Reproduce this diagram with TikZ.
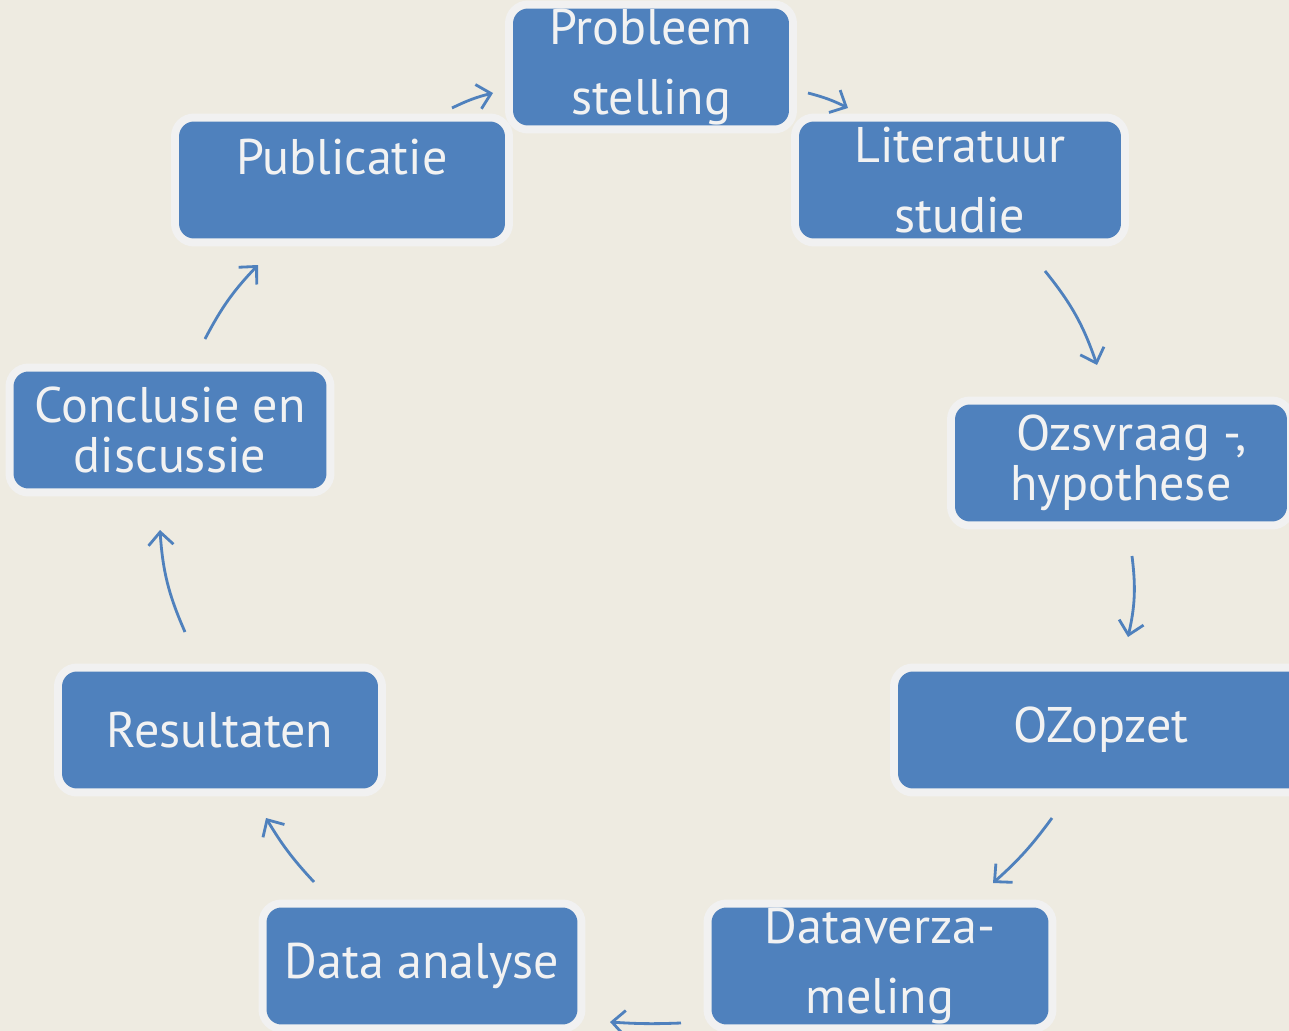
\documentclass[tikz,border=0pt]{standalone}
\usepackage{fontspec}
\setmainfont{PT Sans}
\usetikzlibrary{arrows.meta}
\definecolor{paper}{HTML}{EEEBE1}
\definecolor{halo}{HTML}{F1F1F1}
\definecolor{boxblue}{HTML}{4F81BD}
\definecolor{boxtext}{HTML}{F2F2F2}
\tikzstyle{stage}=[rectangle,rounded corners=0.3cm,minimum height=2.34cm,inner sep=0,align=center,
  fill=boxblue,text=boxtext,font=\fontsize{28.5}{28.5}\selectfont,
  preaction={draw=halo,line width=0.32cm}]
\tikzstyle{flow}=[boxblue,line width=1.6pt,->,>={Straight Barb[length=2.6mm,width=5mm]}]

\begin{document}
\begin{tikzpicture}[x=0.02cm,y=-0.02cm]
\fill[paper] (0,0) rectangle (1289,1031);
\clip (0,0) rectangle (1289,1031);

% the nine stages, clockwise from the top
\node[stage,minimum width=5.52cm] (probleem) at (651,67) {Probleem\\[11.5pt]stelling};
\node[stage,minimum width=6.44cm] (literatuur) at (960,180) {Literatuur\\[11.5pt]studie};
\node[stage,minimum width=6.64cm] (vraag) at (1121,463) {\hspace{12pt}Ozsvraag -,\\hypothese};
\node[stage,minimum width=8.12cm] (opzet) at (1101,730) {OZopzet};
\node[stage,minimum width=6.74cm] (verzameling) at (880,966) {Dataverza-\\[11.5pt]meling};
\node[stage,minimum width=6.22cm] (analyse) at (422,966) {Data analyse};
\node[stage,minimum width=6.32cm] (resultaten) at (220,730) {Resultaten};
\node[stage,minimum width=6.26cm] (conclusie) at (170,430) {Conclusie en\\discussie};
\node[stage,minimum width=6.52cm,text depth=27pt] (publicatie) at (342,180) {Publicatie};

% ends of the arrows between the stages
\coordinate (publicatie-out) at (452,108);
\coordinate (probleem-in) at (493,93);
\coordinate (probleem-out) at (808,93);
\coordinate (literatuur-in) at (848,108);
\coordinate (literatuur-out) at (1045,271);
\coordinate (vraag-in) at (1097,365);
\coordinate (vraag-out) at (1132,556);
\coordinate (opzet-in) at (1128,637);
\coordinate (opzet-out) at (1052,818);
\coordinate (verzameling-in) at (993,883);
\coordinate (verzameling-out) at (681,1023);
\coordinate (analyse-in) at (610,1022);
\coordinate (analyse-out) at (314,882);
\coordinate (resultaten-in) at (266,818);
\coordinate (resultaten-out) at (185,632);
\coordinate (conclusie-in) at (160,530);
\coordinate (conclusie-out) at (205,339);
\coordinate (publicatie-in) at (258,265);

\draw[flow] (publicatie-out) to[bend left=6] (probleem-in);
\draw[flow] (probleem-out) to[bend left=6] (literatuur-in);
\draw[flow] (literatuur-out) to[bend left=10] (vraag-in);
\draw[flow] (vraag-out) to[bend left=10] (opzet-in);
\draw[flow] (opzet-out) to[bend left=6] (verzameling-in);
\draw[flow] (verzameling-out) to[bend left=3] (analyse-in);
\draw[flow] (analyse-out) to[bend left=6] (resultaten-in);
\draw[flow] (resultaten-out) to[bend left=10] (conclusie-in);
\draw[flow] (conclusie-out) to[bend left=8] (publicatie-in);
\end{tikzpicture}
\end{document}
